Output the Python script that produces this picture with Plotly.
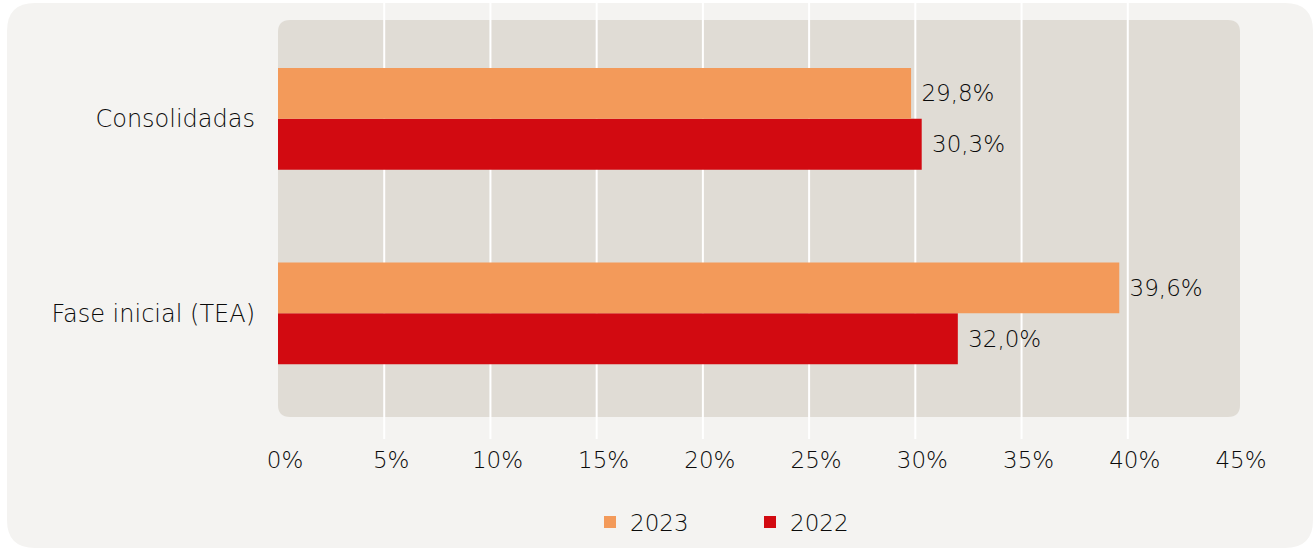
import plotly.graph_objects as go

# ---- data ----
categories = ["Fase inicial (TEA)", "Consolidadas"]
values_2023 = [39.6, 29.8]
values_2022 = [32.0, 30.3]
series_names = ["2023", "2022"]
x_ticks = [0, 5, 10, 15, 20, 25, 30, 35, 40, 45]
x_tick_labels = [f"{v}%" for v in x_ticks]
grid_ticks = [5, 10, 15, 20, 25, 30, 35, 40]

W, H = 1316, 549
FONT = "DejaVu Sans"
FW = 300
FS = 23
TXT = "#0a0a0a"
C2023 = "#f39a5a"
C2022 = "#d20a11"


def px(x):
    return x / W


def py(y):
    return 1 - y / H


def rounded_rect(x0, y0, x1, y1, r):
    # pixel coords (top-left origin) -> paper path
    pts = [
        f"M{px(x0 + r)},{py(y0)}",
        f"L{px(x1 - r)},{py(y0)}",
        f"Q{px(x1)},{py(y0)} {px(x1)},{py(y0 + r)}",
        f"L{px(x1)},{py(y1 - r)}",
        f"Q{px(x1)},{py(y1)} {px(x1 - r)},{py(y1)}",
        f"L{px(x0 + r)},{py(y1)}",
        f"Q{px(x0)},{py(y1)} {px(x0)},{py(y1 - r)}",
        f"L{px(x0)},{py(y0 + r)}",
        f"Q{px(x0)},{py(y0)} {px(x0 + r)},{py(y0)}",
        "Z",
    ]
    return " ".join(pts)


font = dict(family=FONT, size=FS, color=TXT, weight=FW)
cat_font = dict(family=FONT, size=24, color=TXT, weight=FW)

fig = go.Figure()
fig.add_trace(go.Bar(
    y=categories, x=values_2022, name=series_names[1], orientation="h",
    marker=dict(color=C2022, line=dict(width=0)), legendrank=2,
    texttemplate="\u00a0%{x:.1f}%", textposition="outside",
    textfont=font, cliponaxis=False,
))
fig.add_trace(go.Bar(
    y=categories, x=values_2023, name=series_names[0], orientation="h",
    marker=dict(color=C2023, line=dict(width=0)), legendrank=1,
    texttemplate="\u00a0%{x:.1f}%", textposition="outside",
    textfont=font, cliponaxis=False,
))

y_dom = [py(439), py(3)]
shapes = [
    dict(type="path", xref="paper", yref="paper", layer="below",
         path=rounded_rect(7, 3, 1313, 548, 28),
         fillcolor="#f4f3f1", line=dict(width=0)),
    dict(type="path", xref="paper", yref="paper", layer="below",
         path=rounded_rect(278, 20, 1240, 417, 12),
         fillcolor="#e0dcd5", line=dict(width=0)),
]
for g in grid_ticks:
    shapes.append(dict(type="line", xref="x", yref="paper", layer="below",
                       x0=g, x1=g, y0=y_dom[0], y1=y_dom[1],
                       line=dict(color="white", width=2)))

fig.update_layout(
    width=W, height=H,
    margin=dict(l=0, r=0, t=0, b=0, autoexpand=False),
    paper_bgcolor="white", plot_bgcolor="rgba(0,0,0,0)",
    separators=",.",
    barmode="group", bargap=0.477, bargroupgap=0,
    font=font,
    shapes=shapes,
    xaxis=dict(domain=[px(278), px(1234)], range=[0, 45], tickmode="array",
               tickvals=x_ticks, ticktext=x_tick_labels, automargin=False,
               showgrid=False, zeroline=False, showline=False,
               ticks="", ticklabelstandoff=5, ticklabelshift=7,
               tickfont=font),
    yaxis=dict(domain=y_dom, type="category", categoryorder="array",
               categoryarray=categories, range=[-0.646, 1.595],
               automargin=False,
               showgrid=False, zeroline=False, showline=False, ticks="",
               ticklabelstandoff=22, tickfont=cat_font),
    legend=dict(orientation="h", x=px(590), xanchor="left", y=py(522),
                yanchor="middle", bgcolor="rgba(0,0,0,0)",
                entrywidth=115, font=font),
    showlegend=True,
)

fig.write_html(
    "out.html",
    config={"displayModeBar": False},
    post_script="document.body.style.margin='0';document.body.style.overflow='hidden';",
)
